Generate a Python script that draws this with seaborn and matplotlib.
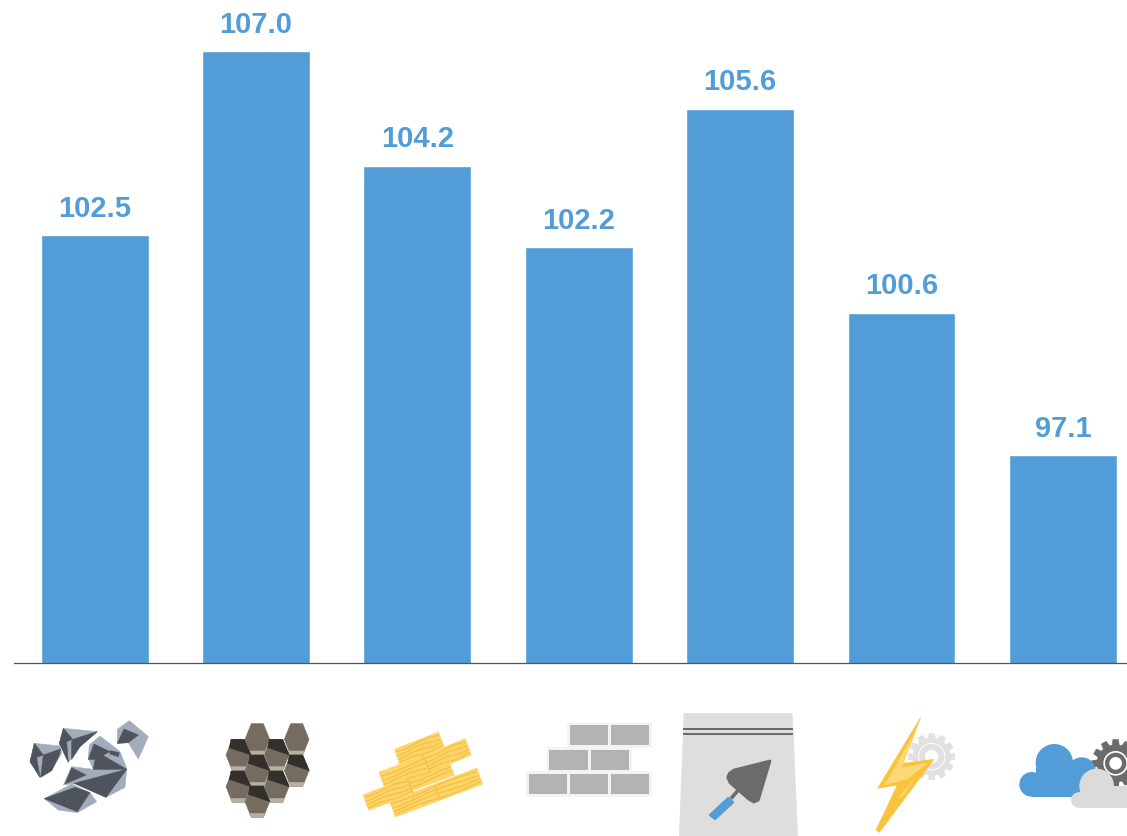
import numpy as np
import matplotlib
matplotlib.use("Agg")
import matplotlib.pyplot as plt
from matplotlib.patches import Polygon, Circle
import seaborn as sns

# categories are only shown as pictograms in the original, names are my reading of them
CATEGORIES = ["Stone", "Gravel", "Timber", "Bricks", "Cement", "Electricity", "Cloud services"]
VALUES = [102.5, 107.0, 104.2, 102.2, 105.6, 100.6, 97.1]

BLUE = "#529DD7"
W, H = 1127, 836

sns.set_theme(style="white")
plt.rcParams["font.family"] = ["Liberation Sans", "DejaVu Sans"]

fig = plt.figure(figsize=(W / 100, H / 100), dpi=100)
ax = fig.add_axes([14 / W, (H - 663) / H, (W - 14) / W, 663 / H])

sns.barplot(x=CATEGORIES, y=VALUES, color=BLUE, saturation=1, width=0.668, ax=ax)
ax.set_xlim(-0.4995, 6.3975)
ax.set_ylim(92.01, 108.26)
ax.bar_label(ax.containers[0], fmt="%.1f", padding=9, color=BLUE, fontsize=21, fontweight="bold")
ax.set_yticks([])
ax.set_xticks([])
sns.despine(ax=ax, left=True)
ax.spines["bottom"].set_color("#555555")
ax.spines["bottom"].set_linewidth(0.9)

# overlay in pixel coords for the pictograms under the bars
icons = fig.add_axes([0, 0, 1, 1], facecolor="none")
icons.set_xlim(0, W)
icons.set_ylim(H, 0)
icons.axis("off")


def to_px(points, ox, oy=700):
    return [(ox + x / 3, oy + y / 3) for x, y in points]


def poly(points, color, ox, zorder=2, lw=0.4):
    icons.add_patch(Polygon(to_px(points, ox), closed=True, facecolor=color, edgecolor=color,
                            linewidth=lw, joinstyle="round", zorder=zorder))


def circle(cx, cy, r, color, ox, zorder=2):
    icons.add_patch(Circle((ox + cx / 3, 700 + cy / 3), r / 3, facecolor=color, edgecolor="none", zorder=zorder))


def rect(x0, y0, x1, y1, color, ox, zorder=2):
    poly([(x0, y0), (x1, y0), (x1, y1), (x0, y1)], color, ox, zorder, lw=0)


def gear(cx, cy, r_out, r_in, color, ox, teeth=12, zorder=2):
    pts = []
    step = 2 * np.pi / teeth
    for i in range(teeth):
        a = i * step
        for da, r in [(-0.36, r_in), (-0.22, r_out), (0.22, r_out), (0.36, r_in)]:
            pts.append((cx + r * np.cos(a + da * step), cy + r * np.sin(a + da * step)))
    poly(pts, color, ox, zorder)


def draw_rocks(ox=0):
    light, dark = "#A3ACBD", "#4F535C"
    poly([(103, 130), (180, 138), (185, 160), (155, 210), (120, 232), (90, 185)], light, ox)
    poly([(103, 130), (130, 165), (110, 172), (120, 232), (90, 185)], dark, ox)
    poly([(130, 165), (182, 147), (178, 165), (155, 212), (122, 232)], dark, ox)
    poly([(190, 85), (292, 95), (240, 140), (205, 187), (178, 130)], light, ox)
    poly([(190, 85), (218, 118), (200, 125), (205, 187), (178, 130)], dark, ox)
    poly([(218, 118), (292, 95), (240, 140), (215, 178), (215, 125)], dark, ox)
    poly([(388, 62), (445, 110), (415, 177), (385, 128), (352, 130), (352, 88)], light, ox)
    poly([(372, 87), (415, 105), (385, 128), (352, 130)], dark, ox)
    poly([(300, 108), (360, 155), (380, 205), (375, 262), (318, 292), (225, 250), (190, 255),
          (215, 200), (280, 208), (265, 175), (268, 135)], light, ox)
    poly([(282, 132), (330, 155), (285, 178), (265, 178)], dark, ox)
    poly([(330, 152), (358, 158), (355, 170), (330, 162)], dark, ox)
    poly([(290, 155), (380, 208), (280, 208), (285, 180)], dark, ox)
    poly([(380, 208), (318, 292), (222, 250)], dark, ox)
    poly([(215, 203), (258, 225), (195, 252)], dark, ox)
    poly([(133, 296), (215, 252), (270, 278), (290, 305), (232, 338), (175, 330)], light, ox)
    poly([(133, 296), (225, 262), (270, 278), (232, 335)], dark, ox)


def draw_hexes(ox=0):
    body, strip, top = "#746C60", "#B9AF9F", "#33302B"
    centers = [(772, 118), (890, 118), (715, 165), (830, 165), (890, 212),
               (772, 212), (715, 260), (830, 260), (772, 305)]
    tops_dark = {(715, 165), (830, 165), (772, 212), (890, 212), (715, 260), (830, 260), (772, 305)}
    for cx, cy in centers:
        hexa = [(cx - 37, cy), (cx - 18, cy - 47), (cx + 18, cy - 47), (cx + 37, cy), (cx + 18, cy + 47), (cx - 18, cy + 47)]
        poly(hexa, body, ox)
        poly([(cx - 25, cy + 35), (cx + 24, cy + 35), (cx + 18, cy + 47), (cx - 18, cy + 47)], strip, ox)
        if (cx, cy) in tops_dark:
            poly([(cx - 22, cy - 47), (cx + 18, cy - 47), (cx + 38, cy), (cx - 27, cy - 22)], top, ox)


def draw_planks(ox=0):
    fill, grain = "#FDD56A", "#F8C044"
    planks = [
        [(1138, 217), (1330, 145), (1362, 225), (1167, 297)],
        [(1185, 148), (1315, 97), (1332, 142), (1200, 195)],
        [(1270, 168), (1395, 117), (1413, 165), (1290, 215)],
        [(1090, 285), (1220, 235), (1240, 280), (1107, 330)],
        [(1170, 305), (1430, 205), (1447, 252), (1187, 350)],
    ]
    for p in planks:
        poly(p, fill, ox, lw=0.8)
        a, b, c, d = [np.array(q, dtype=float) for q in p]
        ends = np.linspace(0.14, 0.86, 4 if np.linalg.norm(d - a) < 60 else 6)
        for k, t in enumerate(ends):
            s = np.linspace(0, 1, 24)[:, None]
            pts = (a + (d - a) * t) * (1 - s) + (b + (c - b) * t) * s
            # grain wobble, purely decorative
            pts[:, 1] += 3 * np.sin(s[:, 0] * 7 + k)
            line = to_px([tuple(q) for q in pts], ox)
            icons.plot(*zip(*line), color=grain, lw=1.0, zorder=2, solid_capstyle="butt")
    for p in ([(1270, 168), (1290, 215)], [(1220, 235), (1240, 280)], [(1305, 258), (1320, 298)]):
        icons.plot(*zip(*to_px(p, ox)), color=grain, lw=1.0, zorder=3)


def draw_bricks(ox=500):
    back, brick = "#F3F3F3", "#B3B3B3"
    rect(202, 68, 456, 145, back, ox)
    rect(140, 141, 395, 217, back, ox)
    rect(78, 214, 456, 290, back, ox)
    rows = [(76, 136, [(210, 325), (333, 448)]),
            (149, 209, [(148, 263), (272, 387)]),
            (222, 282, [(86, 201), (210, 325), (333, 448)])]
    for y0, y1, spans in rows:
        for x0, x1 in spans:
            rect(x0, y0, x1, y1, brick, ox, zorder=3)


def draw_bag(ox=500):
    bag, tool = "#DFDEDD", "#6B6B6B"
    poly([(552, 40), (876, 40), (880, 100), (886, 250), (893, 408), (538, 408), (544, 250), (550, 100)], bag, ox)
    rect(550, 83, 880, 90, tool, ox, zorder=3)
    rect(550, 99, 880, 105, tool, ox, zorder=3)
    poly([(810, 183), (702, 210), (688, 220), (683, 232), (690, 248), (747, 298), (762, 306), (775, 300)], tool, ox, zorder=3, lw=2)
    poly([(709, 270), (716, 276), (697, 298), (690, 292)], tool, ox, zorder=3)
    poly([(685, 295), (698, 307), (645, 356), (631, 345)], BLUE, ox, zorder=4, lw=2)


def draw_bolt(ox=820):
    gear(335, 170, 70, 56, "#E1E1E1", ox)
    circle(335, 170, 41, "white", ox, zorder=3)
    circle(335, 170, 38, "#E1E1E1", ox, zorder=3)
    circle(335, 170, 20, "white", ox, zorder=3)
    poly([(302, 52), (248, 190), (342, 178), (178, 397), (168, 390), (232, 255), (173, 265)], "#FBC33C", ox, zorder=4)
    poly([(288, 92), (195, 255), (265, 235), (320, 190), (245, 203)], "#FDD975", ox, zorder=5)
    poly([(235, 295), (280, 240), (250, 285)], "#FDD975", ox, zorder=5)


def draw_clouds(ox=820):
    gear(887, 190, 72, 56, "#6B6B6B", ox)
    circle(887, 190, 37, "white", ox, zorder=3)
    circle(887, 190, 32, "#6B6B6B", ox, zorder=3)
    circle(887, 190, 19, "white", ox, zorder=3)
    circle(703, 188, 56, BLUE, ox, zorder=4)
    circle(785, 215, 43, BLUE, ox, zorder=4)
    circle(635, 253, 37, BLUE, ox, zorder=4)
    rect(648, 190, 758, 290, BLUE, ox, zorder=4)
    rect(635, 225, 828, 290, BLUE, ox, zorder=4)
    circle(830, 258, 52, "#DCDBD9", ox, zorder=5)
    circle(776, 300, 23, "#DCDBD9", ox, zorder=5)
    rect(776, 277, 925, 323, "#DCDBD9", ox, zorder=5)
    rect(830, 258, 925, 323, "#DCDBD9", ox, zorder=5)


draw_rocks()
draw_hexes()
draw_planks()
draw_bricks()
draw_bag()
draw_bolt()
draw_clouds()

fig.savefig("out.png", dpi=100)
plt.close(fig)
